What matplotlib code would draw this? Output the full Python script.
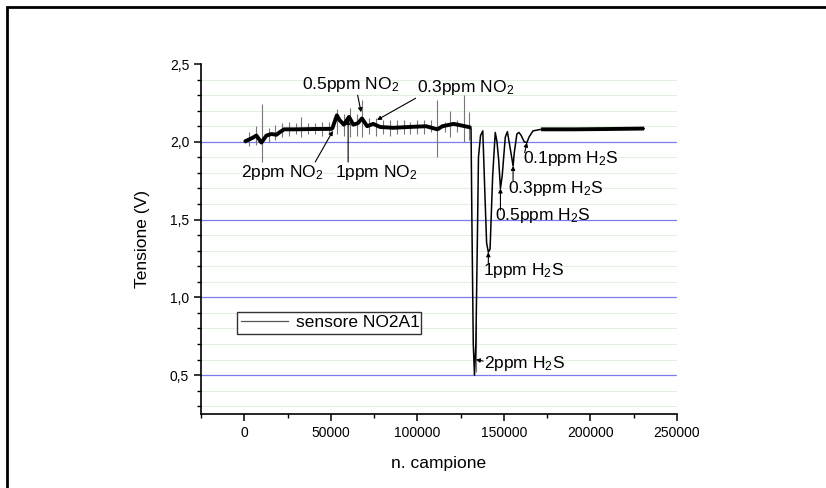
import matplotlib
matplotlib.use("Agg")
import matplotlib.pyplot as plt
from matplotlib.lines import Line2D
from matplotlib.patches import Rectangle
from matplotlib.ticker import MultipleLocator, FuncFormatter

plt.rcParams['font.family'] = ['Liberation Sans', 'DejaVu Sans']
plt.rcParams['mathtext.fontset'] = 'custom'
plt.rcParams['mathtext.rm'] = 'Liberation Sans'
plt.rcParams['mathtext.it'] = 'Liberation Sans'

# ---- data ----
sample_x = [0, 4700, 7000, 9900, 12800, 15700, 18600, 20300, 23000, 30000, 40000, 50500,
            51000, 53500, 55000, 57500, 60500, 63000, 65700, 68000, 71000, 74500, 78500,
            86000, 95000, 105000, 111600, 114500, 121000, 129600, 131000,
            131500, 132300, 133000, 133800, 134700, 135300, 136500, 137800,
            139000, 140000, 141000, 142000, 143500, 145000,
            146000, 147000, 148000, 149000, 150800, 152000,
            153000, 154500, 155300, 156000, 157500, 158700,
            160000, 161700, 163300, 164500, 166800, 171500, 190000, 210000, 231000]
voltage = [2.00, 2.025, 2.04, 1.995, 2.04, 2.05, 2.045, 2.06, 2.08, 2.08, 2.082, 2.083,
           2.09, 2.17, 2.14, 2.11, 2.16, 2.11, 2.12, 2.15, 2.10, 2.115, 2.095,
           2.09, 2.095, 2.10, 2.08, 2.10, 2.115, 2.095, 2.09,
           1.50, 0.70, 0.50, 0.70, 1.40, 1.90, 2.04, 2.07,
           1.67, 1.35, 1.29, 1.31, 1.78, 2.06,
           2.00, 1.88, 1.70, 1.78, 2.03, 2.065,
           2.00, 1.90, 1.845, 1.93, 2.05, 2.06,
           2.04, 2.00, 1.995, 2.03, 2.07, 2.08, 2.08, 2.082, 2.085]

# noise spikes (thin grey)
spike_x = [3000, 7000, 10500, 14000, 18000, 22000, 26000, 30000, 33000, 37000, 41000,
           45000, 49000, 53500, 57500, 61000, 65000, 68000, 72000, 76000, 80000, 84000,
           88000, 92000, 96000, 100000, 104000, 108000, 111600, 116000, 119000, 123000,
           126700, 129600, 133900]
spike_lo = [1.97, 1.98, 1.87, 2.00, 2.01, 2.03, 2.04, 2.05, 2.03, 2.05, 2.05,
            2.04, 2.05, 2.05, 2.04, 2.03, 2.04, 2.03, 2.05, 2.04, 2.05, 2.04,
            2.05, 2.05, 2.05, 2.05, 2.05, 2.06, 1.90, 2.06, 2.03, 2.06,
            2.00, 2.01, 0.52]
spike_hi = [2.06, 2.10, 2.24, 2.09, 2.11, 2.12, 2.13, 2.12, 2.16, 2.12, 2.12,
            2.13, 2.13, 2.21, 2.18, 2.22, 2.18, 2.27, 2.15, 2.15, 2.14, 2.14,
            2.14, 2.14, 2.13, 2.14, 2.14, 2.14, 2.27, 2.13, 2.20, 2.14,
            2.30, 2.19, 0.83]

# annotations: label, text position, arrow tail, arrow tip
ann_labels = [r'2ppm NO$_2$', r'1ppm NO$_2$', r'0.5ppm NO$_2$', r'0.3ppm NO$_2$',
              r'0.1ppm H$_2$S', r'0.3ppm H$_2$S', r'0.5ppm H$_2$S', r'1ppm H$_2$S', r'2ppm H$_2$S']
ann_text_x = [-1700, 52300, 33100, 100000, 161000, 152300, 144800, 137800, 138400]
ann_text_y = [1.775, 1.775, 2.34, 2.32, 1.865, 1.67, 1.50, 1.145, 0.548]
ann_tail_x = [41000, 60000, 65500, 99000, 162000, 155300, 148000, 141000, 138000]
ann_tail_y = [1.87, 1.87, 2.30, 2.28, 1.93, 1.75, 1.56, 1.22, 0.59]
ann_tip_x = [51200, 60000, 67500, 76700, 163300, 155300, 148000, 141000, 133800]
ann_tip_y = [2.07, 2.14, 2.19, 2.14, 1.995, 1.845, 1.70, 1.29, 0.60]

yticks = [0.5, 1.0, 1.5, 2.0, 2.5]
xticks = [0, 50000, 100000, 150000, 200000, 250000]
blue_lines = [0.5, 1.0, 1.5, 2.0]
green_lines = [0.3, 0.4, 0.6, 0.7, 0.8, 0.9, 1.1, 1.2, 1.3, 1.4, 1.6, 1.7, 1.8, 1.9,
               2.1, 2.2, 2.3, 2.4]

fig = plt.figure(figsize=(8.26, 4.88), dpi=100)
ax = fig.add_axes([201/826, 74/488, 476/826, 350/488])
ax.set_xlim(-25000, 250000)
ax.set_ylim(0.25, 2.5)

for g in green_lines:
    ax.axhline(g, color='#e2f0e0', lw=0.8, zorder=0)
for b in blue_lines:
    ax.axhline(b, color='#7c7ce8', lw=0.9, zorder=1)

ax.vlines(spike_x, spike_lo, spike_hi, color='#777777', lw=0.8, zorder=2)
ax.plot(sample_x, voltage, color='black', lw=1.1, zorder=3)
ax.plot(sample_x[:31], voltage[:31], color='black', lw=2.8, zorder=3,
        solid_capstyle='butt')
ax.plot(sample_x[-4:], voltage[-4:], color='black', lw=2.8, zorder=3,
        solid_capstyle='butt')

for lab, tx, ty, ax0, ay0, px, py in zip(ann_labels, ann_text_x, ann_text_y,
                                          ann_tail_x, ann_tail_y, ann_tip_x, ann_tip_y):
    ax.text(tx, ty, lab, fontsize=12.5, ha='left', va='baseline', zorder=5)
    ax.annotate('', xy=(px, py), xytext=(ax0, ay0),
                arrowprops=dict(arrowstyle='-|>', color='black', lw=0.8,
                                mutation_scale=6, shrinkA=0, shrinkB=0), zorder=5)

ax.set_xticks(xticks)
ax.set_yticks(yticks)
ax.xaxis.set_minor_locator(MultipleLocator(25000))
ax.yaxis.set_minor_locator(MultipleLocator(0.1))
ax.yaxis.set_major_formatter(FuncFormatter(lambda v, p: f'{v:.1f}'.replace('.', ',')))
ax.xaxis.set_major_formatter(FuncFormatter(lambda v, p: f'{int(v)}'))
ax.tick_params(which='major', direction='out', length=5, width=1.1, labelsize=10)
ax.tick_params(which='minor', direction='out', length=3, width=1.0)
for s in ['top', 'right']:
    ax.spines[s].set_visible(False)
for s in ['left', 'bottom']:
    ax.spines[s].set_linewidth(1.2)

ax.set_xlabel('n. campione', fontsize=12.5, labelpad=12)
ax.set_ylabel('Tensione (V)', fontsize=12.5, labelpad=14)

handle = Line2D([], [], color='#555555', lw=0.9)
leg = ax.legend([handle], ['sensore NO2A1'], loc='lower left',
                bbox_to_anchor=(0.076, 0.229, 0.386, 0.065), mode='expand',
                fontsize=12.5, frameon=True, fancybox=False, edgecolor='black',
                borderpad=0.2, handlelength=2.7, handletextpad=0.5, borderaxespad=0)
leg.get_frame().set_linewidth(1.0)

fig.patches.append(Rectangle((7/826, -0.1), 1.2, 1.1 - 7/488,
                             transform=fig.transFigure, fill=False,
                             edgecolor='black', lw=2))
fig.savefig('out.png', dpi=100)
